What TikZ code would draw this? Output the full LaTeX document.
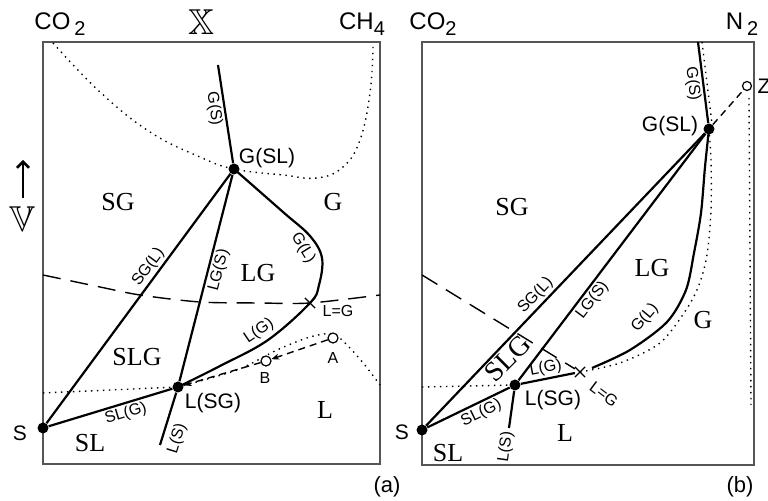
\documentclass[tikz,border=0pt]{standalone}
\usepackage{amsmath,amssymb}
\usepackage{fontspec}
\setmainfont{Liberation Serif}
\setsansfont{Liberation Sans}
\usepackage{tikz}
\usetikzlibrary{arrows.meta,shapes.misc}
\definecolor{phink}  {HTML}{000000}
\definecolor{phframe}{HTML}{555555}
\newcommand{\subnum}[1]{\raisebox{-0.45ex}{\fontsize{10}{12}\selectfont #1}}

\begin{document}
\begin{tikzpicture}[x=0.5pt, y=-0.5pt,
    every node/.style={font=\sffamily\fontsize{8}{9}\selectfont, inner sep=1pt, text=phink},
    frame/.style={draw=phframe, line width=0.7pt},
    tie/.style={draw=phink, line width=1.1pt},
    dotline/.style={draw=phink, line width=0.7pt, dash pattern=on 0.7pt off 2.3pt},
    longdash/.style={draw=phink, line width=0.7pt, dash pattern=on 9pt off 5pt},
    shortdash/.style={draw=phink, line width=0.7pt, dash pattern=on 3.5pt off 2.5pt},
    invpt/.style={circle, fill=phink, inner sep=0pt, minimum size=5.5pt},
    openpt/.style={circle, draw=phink, fill=white, line width=0.6pt, inner sep=0pt, minimum size=5pt},
    azeo/.style={cross out, draw=phink, line width=0.6pt, inner sep=0pt, minimum size=4.5pt},
    region/.style={font=\rmfamily\fontsize{13}{15}\selectfont},
    ptlabel/.style={font=\sffamily\fontsize{10.5}{12}\selectfont},
    axlabel/.style={font=\sffamily\fontsize{12}{14}\selectfont},
    bblabel/.style={font=\fontsize{12}{14}\selectfont, scale=1.5, inner sep=0pt},
    curvelab/.style={font=\sffamily\fontsize{8}{9}\selectfont}]
  \useasboundingbox (0,0) rectangle (768,501);

  % panel (a)
  \draw[frame] (43,42) rectangle (380,464);
  \coordinate (aGStop) at (218,65);
  \coordinate (aLSbot) at (160,445);
  \node[invpt] (aS) at (43,428) {};
  \node[invpt] (aGSL) at (234,169) {};
  \node[invpt] (aLSG) at (178,387) {};
  \node[azeo] (aX) at (310,303) {};

  \draw[dotline] plot[smooth, tension=0.7] coordinates
    {(53,43) (100,92) (150,132) (200,157) (aGSL.center) (283,175) (317,178)
     (343,167) (360,140) (370,93) (373,47)};
  \draw[dotline] (43,393) -- (aLSG.center);
  \draw[dotline] plot[smooth] coordinates
    {(aLSG.center) (237,370) (277,350) (310,337) (333,334) (348,346) (364,364) (380,385)};
  \draw[longdash] plot[smooth] coordinates
    {(43,275) (100,287) (140,295) (200,302) (260,303) (aX.center) (380,295)};

  \draw[tie] (aGStop) -- (aGSL) node[curvelab, pos=0.43, sloped, below] {G(S)};
  \draw[tie] (aS) -- (aGSL) node[curvelab, pos=0.6, sloped, above] {SG(L)};
  \draw[tie] (aLSbot) -- (aLSG) node[curvelab, pos=0.2, sloped, below=2pt] {L(S)}
    -- (aGSL) node[curvelab, pos=0.55, sloped, below] {LG(S)};
  \draw[tie] (aS) -- (aLSG) node[curvelab, pos=0.6, sloped, below] {SL(G)};
  \draw[tie] plot[smooth, tension=0.6] coordinates
    {(aGSL.center) (283,212) (310,236) (322,258) (319,285) (aX.center)
     (268,340) (220,366) (aLSG.center)};

  \node[openpt] (aA) at (333,338) {};
  \node[openpt] (aB) at (266,361) {};
  \draw[shortdash, -{Stealth[length=4pt, width=3pt]}] (aA) -- (aB);
  \draw[shortdash, -{Stealth[length=4pt, width=3pt]}] (aB) -- (aLSG);

  \node[curvelab, rotate=-58] at (303,248) {G(L)};
  \node[curvelab, rotate=34] at (259,331) {L(G)};
  \node[curvelab] at (338,311) {L=G};
  \node[curvelab] at (333,358) {A};
  \node[curvelab] at (265,378) {B};

  \node[region] at (118,202) {SG};
  \node[region] at (333,202) {G};
  \node[region] at (258,273) {LG};
  \node[region] at (137,357) {SLG};
  \node[region] at (325,410) {L};
  \node[region] at (90,443) {SL};
  \node[ptlabel] at (267,158) {G(SL)};
  \node[ptlabel] at (213,403) {L(SG)};
  \node[ptlabel] at (20,433) {S};

  \node[axlabel] at (60,24) {CO\,\subnum{2}};
  \node[bblabel] at (201,22) {$\mathbb{X}$};
  \node[axlabel] at (362,24) {CH\subnum{4}};
  \coordinate (vlow) at (23,198);
  \coordinate (vhigh) at (23,160);
  \draw[line width=1.3pt, -{Straight Barb[length=3pt, width=6pt]}] (vlow) -- (vhigh);
  \node[bblabel] at (23,219) {$\mathbb{V}$};
  \node[font=\sffamily\fontsize{11}{13}\selectfont] at (387,487) {(a)};

  % panel (b)
  \draw[frame] (422,42) rectangle (754,465);
  \coordinate (bGStop) at (698,42);
  \coordinate (bLSbot) at (509,428);
  \node[invpt] (bS) at (422,430) {};
  \node[invpt] (bLSG) at (515,385) {};
  \node[invpt] (bGSL) at (709,129) {};
  \node[azeo] (bX) at (580,372) {};
  \node[openpt, minimum size=4.5pt] (bZ) at (747,86) {};

  \draw[dotline] (702,42) -- (712,124);
  \draw[dotline] plot[smooth] coordinates
    {(bGSL.center) (711,160) (711,210) (707,255) (699,285) (686,310) (660,343)
     (620,363) (bX.center)};
  \draw[dotline] (422,387) -- (bLSG.center);
  \draw[dotline] (749,98) -- (751,405);
  \draw[longdash] (422,275) -- (bX);
  \draw[shortdash] (bGSL) -- (bZ);

  \draw[tie] (bGStop) -- (bGSL) node[curvelab, pos=0.5, sloped, below] {G(S)};
  \draw[tie] (bS) -- (bGSL) node[curvelab, pos=0.42, sloped, above] {SG(L)};
  \draw[tie] (bLSbot) -- (bLSG) -- (bGSL) node[curvelab, pos=0.35, sloped, below] {LG(S)};
  \draw[tie] (bS) -- (bLSG) node[curvelab, pos=0.6, sloped, below] {SL(G)};
  \draw[tie] (bLSG) -- (bX) node[curvelab, pos=0.5, sloped, above] {L(G)};
  \draw[tie] plot[smooth] coordinates
    {(bGSL.center) (705,167) (701,213) (694,253) (686,290) (667,322) (630,350) (592,368)};

  \node[curvelab, rotate=50] at (645,318) {G(L)};
  \node[curvelab, rotate=82] at (506,447) {L(S)};
  \node[curvelab, rotate=-37] at (604,394) {L=G};

  \node[region] at (512,207) {SG};
  \node[region] at (652,268) {LG};
  \node[region] at (703,320) {G};
  \node[region] at (565,433) {L};
  \node[region] at (448,453) {SL};
  \node[region, rotate=45, font=\rmfamily\fontsize{14}{16}\selectfont] at (508,358) {SLG};
  \node[ptlabel] at (670,126) {G(SL)};
  \node[ptlabel] at (553,400) {L(SG)};
  \node[ptlabel] at (402,432) {S};
  \node[ptlabel] at (764,86) {Z};

  \node[axlabel] at (433,24) {CO\subnum{2}};
  \node[axlabel] at (742,24) {N\,\subnum{2}};
  \node[font=\sffamily\fontsize{11}{13}\selectfont] at (740,487) {(b)};
\end{tikzpicture}
\end{document}
